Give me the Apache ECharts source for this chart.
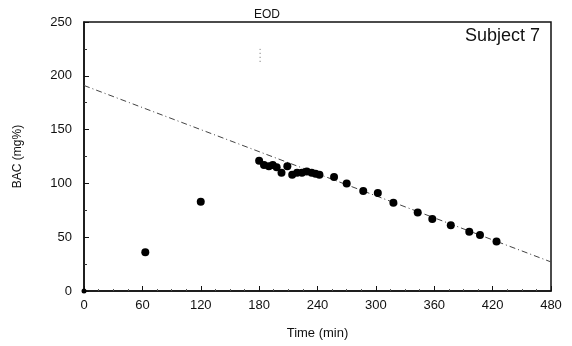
<!DOCTYPE html>
<html>
<head>
<meta charset="utf-8">
<script src="https://cdn.jsdelivr.net/npm/echarts@6/dist/echarts.min.js"></script>
<style>
  html, body { margin: 0; padding: 0; background: #fff; }
  #chart { width: 572px; height: 346px; }
</style>
</head>
<body>
<div id="chart"></div>
<script>
// BAC measurements, subject 7
var timeMin = [0, 63, 120, 180, 185, 190, 194, 198, 203, 209, 214, 219, 224, 229, 234, 238, 242,
               257, 270, 287, 302, 318, 343, 358, 377, 396, 407, 424];
var bacVals = [0, 36, 83, 121, 117, 116, 117, 115, 110, 116, 108, 110, 110, 111, 110, 109, 108,
               106, 100, 93, 91, 82, 73, 67, 61, 55, 52, 46];
// elimination line (dash-dot)
var lineX = [0, 480];
var lineY = [191, 27];
// EOD marker
var eodX = 181;
var eodY = [213, 225];

var xTicks = [0, 60, 120, 180, 240, 300, 360, 420, 480];
var yTicks = [0, 50, 100, 150, 200, 250];

var font = '"Liberation Sans", Arial, sans-serif';
var points = timeMin.map(function (t, i) { return [t, bacVals[i]]; });

var chart = echarts.init(document.getElementById('chart'));
chart.setOption({
    animation: false,
    backgroundColor: '#fff',
    grid: { left: 84, right: 21, top: 22, bottom: 55, show: true, borderColor: '#111', borderWidth: 1.5 },
    title: [
        { text: 'Subject 7', right: 27, top: 22, textStyle: { fontFamily: font, fontSize: 18, fontWeight: 'normal', color: '#111' } },
        { text: 'EOD', left: 262, top: 4, textAlign: 'center', textStyle: { fontFamily: font, fontSize: 12, fontWeight: 'normal', color: '#111' } }
    ],
    xAxis: {
        type: 'value', min: xTicks[0], max: xTicks[xTicks.length - 1], interval: 60,
        name: 'Time (min)', nameLocation: 'middle', nameGap: 36,
        nameTextStyle: { fontFamily: font, fontSize: 13, color: '#111' },
        axisLine: { lineStyle: { color: '#111', width: 1.5 } },
        axisTick: { inside: true, length: 5, lineStyle: { color: '#111' } },
        minorTick: { show: true, splitNumber: 4, length: 2, lineStyle: { color: '#555' } },
        axisLabel: { fontFamily: font, fontSize: 13, color: '#111', margin: 8 },
        splitLine: { show: false }
    },
    yAxis: {
        type: 'value', min: yTicks[0], max: yTicks[yTicks.length - 1], interval: 50,
        name: 'BAC (mg%)', nameLocation: 'middle', nameGap: 60, nameRotate: 90,
        nameTextStyle: { fontFamily: font, fontSize: 12, color: '#111' },
        axisLine: { lineStyle: { color: '#111', width: 1.5 } },
        axisTick: { inside: true, length: 5, lineStyle: { color: '#111' } },
        minorTick: { show: true, splitNumber: 2, length: 3, lineStyle: { color: '#333' } },
        axisLabel: { fontFamily: font, fontSize: 13, color: '#111', margin: 12 },
        splitLine: { show: false }
    },
    series: [
        {
            type: 'line',
            data: lineX.map(function (x, i) { return [x, lineY[i]]; }),
            showSymbol: false,
            lineStyle: { color: '#444', width: 1, type: [6, 3, 1, 3] },
            z: 1
        },
        {
            type: 'line',
            data: eodY.map(function (y) { return [eodX, y]; }),
            showSymbol: false,
            lineStyle: { color: '#666', width: 1, type: [1, 3] },
            z: 1
        },
        {
            type: 'scatter',
            data: points,
            symbol: 'circle',
            symbolSize: function (v) { return v[0] === 0 ? 5 : 8; },
            itemStyle: { color: '#000', opacity: 1 },
            z: 3
        }
    ]
});
</script>
</body>
</html>
